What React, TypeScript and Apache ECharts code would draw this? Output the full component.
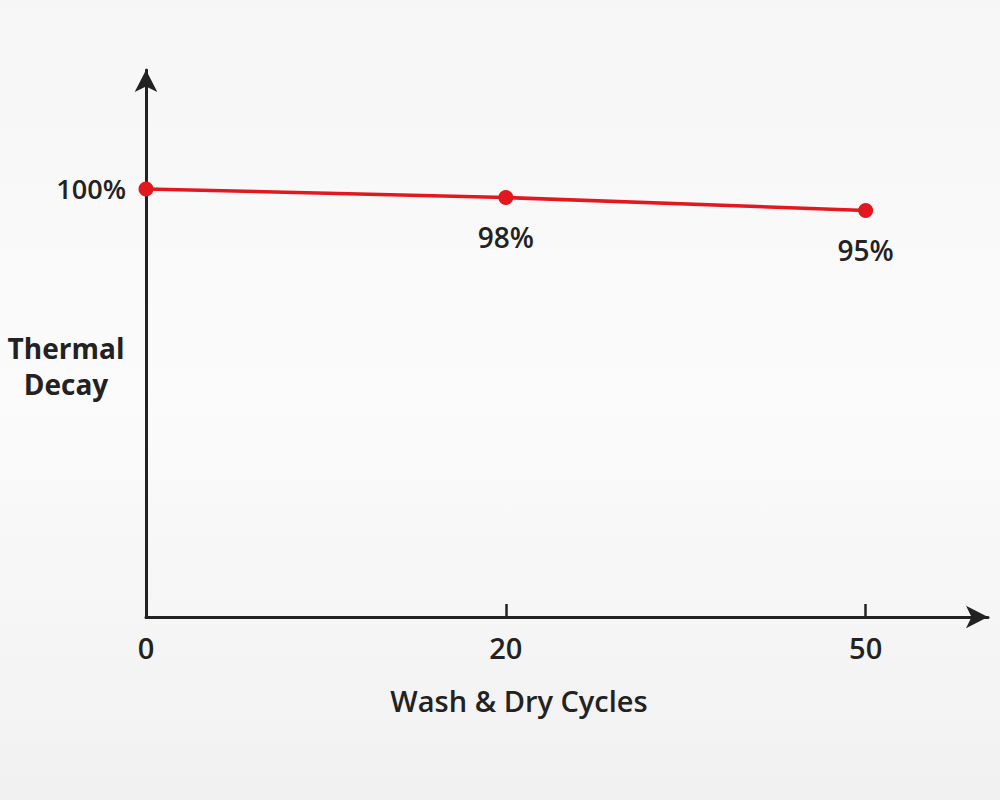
import React, { useEffect, useRef } from "react";
import * as echarts from "echarts";

const cycleLabels = ["0", "20", "50"];
const retention = [100, 98, 95];
const yTickValues = [100];
const yAxisTitle = "Thermal\nDecay";
const xAxisTitle = "Wash & Dry Cycles";

export default function App() {
  const ref = useRef<HTMLDivElement>(null);

  useEffect(() => {
    if (!ref.current) return;
    const chart = echarts.init(ref.current, null, { renderer: "svg" });
    const font = "'Open Sans', 'Noto Sans', sans-serif";
    const ink = "#222222";
    const red = "#e3181f";

    const data = retention.map((v, i) => ({
      value: [i, v],
      label: { show: i > 0 },
    }));

    chart.setOption({
      animation: false,
      backgroundColor: {
        type: "linear",
        x: 0,
        y: 0,
        x2: 0,
        y2: 1,
        colorStops: [
          { offset: 0, color: "#f6f6f6" },
          { offset: 0.5, color: "#fbfbfb" },
          { offset: 1, color: "#f1f1f1" },
        ],
      },
      grid: { left: 146, right: 12, top: 70, bottom: 183 },
      xAxis: {
        type: "value",
        min: 0,
        max: 2.34,
        interval: 1,
        splitLine: { show: false },
        axisLine: {
          show: true,
          symbol: ["none", "arrow"],
          symbolSize: [17, 22],
          lineStyle: { color: ink, width: 3 },
        },
        axisTick: {
          show: true,
          inside: true,
          length: 13,
          customValues: [1, 2],
          lineStyle: { color: ink, width: 2.5 },
        },
        axisLabel: {
          customValues: [0, 1, 2],
          formatter: (v: number) => cycleLabels[Math.round(v)] ?? "",
          margin: 16,
          color: ink,
          fontFamily: font,
          fontWeight: 600,
          fontSize: 29,
        },
      },
      yAxis: {
        type: "value",
        min: 0,
        max: 127.8,
        splitLine: { show: false },
        axisLine: {
          show: true,
          symbol: ["none", "arrow"],
          symbolSize: [17, 22],
          lineStyle: { color: ink, width: 3 },
        },
        axisTick: { show: false },
        axisLabel: {
          customValues: yTickValues,
          formatter: "{value}%",
          margin: 20,
          color: ink,
          fontFamily: font,
          fontWeight: 600,
          fontSize: 27,
        },
      },
      graphic: [
        {
          type: "text",
          x: 66,
          y: 330,
          style: {
            text: yAxisTitle,
            fill: ink,
            font: `bold 28px ${font}`,
            align: "center",
            lineHeight: 36,
          },
        },
        {
          type: "text",
          x: 519,
          y: 686,
          style: {
            text: xAxisTitle,
            fill: ink,
            font: `600 29px ${font}`,
            align: "center",
          },
        },
      ],
      series: [
        {
          type: "line",
          data,
          symbol: "circle",
          symbolSize: 15,
          lineStyle: { color: red, width: 3.5 },
          itemStyle: { color: red },
          label: {
            position: "bottom",
            distance: 18,
            formatter: (p: any) => `${p.value[1]}%`,
            color: ink,
            fontFamily: font,
            fontWeight: 600,
            fontSize: 28,
          },
        },
      ],
    });

    return () => chart.dispose();
  }, []);

  return (
    <div
      ref={ref}
      style={{ position: "fixed", left: 0, top: 0, width: 1000, height: 800 }}
    />
  );
}
